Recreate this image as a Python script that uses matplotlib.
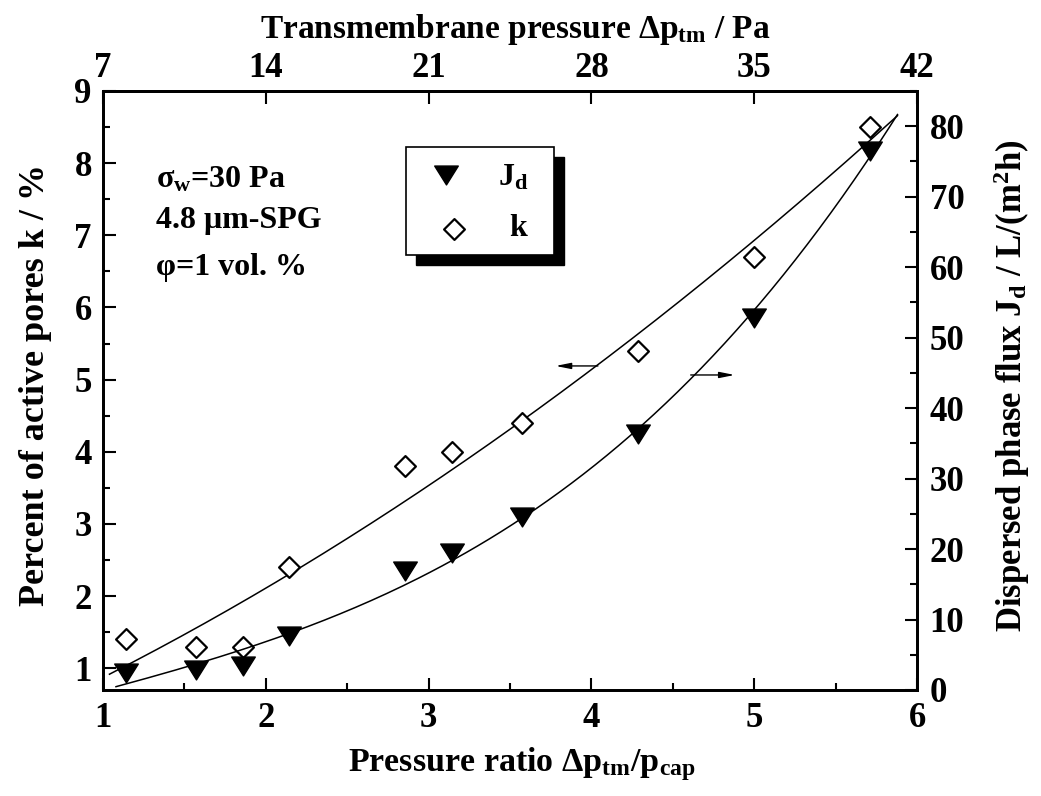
import numpy as np
import matplotlib
matplotlib.use("Agg")
import matplotlib.pyplot as plt
from matplotlib.patches import Rectangle
from matplotlib.path import Path
from matplotlib.ticker import MultipleLocator

plt.rcParams['font.family'] = ['Liberation Serif', 'DejaVu Serif']
plt.rcParams['font.weight'] = 'bold'
plt.rcParams['mathtext.fontset'] = 'custom'
plt.rcParams['mathtext.rm'] = 'Liberation Serif:bold'
plt.rcParams['mathtext.it'] = 'Liberation Serif:bold'
plt.rcParams['mathtext.bf'] = 'Liberation Serif:bold'

# transmembrane pressure (Pa) and capillary pressure of the membrane
dp_tm = np.array([8, 11, 13, 15, 20, 22, 25, 30, 35, 40])
p_cap = 7.0

# percent of active pores k (%) and dispersed phase flux J_d (L/(m2 h))
k_active = np.array([1.4, 1.3, 1.3, 2.4, 3.8, 4.0, 4.4, 5.4, 6.7, 8.5])
j_flux = np.array([2.4, 2.9, 3.4, 7.6, 16.9, 19.4, 24.5, 36.3, 52.8, 76.5])

ratio = dp_tm / p_cap

fig = plt.figure(figsize=(10.41, 7.96), dpi=100)
ax = fig.add_axes([0.0989, 0.1332, 0.782, 0.7525])
ax2 = ax.twinx()

# polynomial trend lines through each series
k_fit = np.polyfit(ratio, k_active, 2)
j_fit = np.polyfit(ratio, j_flux, 3)
xk = np.linspace(1.04, 5.88, 200)
xj = np.linspace(1.08, 5.88, 200)
ax.plot(xk, np.polyval(k_fit, xk), color='black', lw=1.1, zorder=2)
ax2.plot(xj, np.polyval(j_fit, xj), color='black', lw=1.1, zorder=2)

tri = Path([(-1, 0.8), (1, 0.8), (0, -0.8), (-1, 0.8)], closed=True)
dia = Path([(0, 1), (1, 0), (0, -1), (-1, 0), (0, 1)], closed=True)
ax.plot(ratio, k_active, linestyle='none', marker=dia, markersize=15,
        markerfacecolor='white', markeredgecolor='black', markeredgewidth=1.6, zorder=3)
ax2.plot(ratio, j_flux, linestyle='none', marker=tri, markersize=17,
         markerfacecolor='black', markeredgecolor='black', zorder=3)

ax.set_xlim(1, 6)
ax.set_ylim(0.7, 9)
ax2.set_ylim(0, 85)

# arrows pointing to the axis each curve belongs to
arrow = dict(arrowstyle='-|>,head_length=0.9,head_width=0.18', color='black', lw=1.0,
             shrinkA=0, shrinkB=0)
ax.annotate('', xy=(3.78, 5.19), xytext=(4.04, 5.19), arrowprops=arrow)
ax2.annotate('', xy=(4.88, 44.7), xytext=(4.61, 44.7), arrowprops=arrow)

ax.xaxis.set_major_locator(MultipleLocator(1))
ax.xaxis.set_minor_locator(MultipleLocator(0.5))
ax.yaxis.set_major_locator(MultipleLocator(1))
ax.yaxis.set_minor_locator(MultipleLocator(0.5))
ax2.yaxis.set_major_locator(MultipleLocator(10))
ax2.yaxis.set_minor_locator(MultipleLocator(5))

tick_fs = 25
ax.tick_params(which='both', direction='in', width=1.5, top=False, right=False,
               labelsize=tick_fs)
ax.tick_params(which='major', length=9)
ax.tick_params(which='minor', length=5)
ax.tick_params(axis='x', pad=9)
ax.tick_params(axis='y', pad=8)
ax2.tick_params(which='both', direction='in', width=1.5, labelsize=tick_fs, pad=9)
ax2.tick_params(which='major', length=9)
ax2.tick_params(which='minor', length=5)

top = ax.secondary_xaxis('top', functions=(lambda x: x * p_cap, lambda t: t / p_cap))
top.set_xticks([7, 14, 21, 28, 35, 42])
top.tick_params(direction='in', length=9, width=1.5, labelsize=tick_fs, pad=4)

for a in (ax, ax2):
    for s in a.spines.values():
        s.set_linewidth(2)
top.spines['top'].set_linewidth(2)

fig.text(0.034, 0.516, 'Percent of active pores k / %', rotation=90,
         ha='center', va='center', fontsize=26)
fig.text(0.972, 0.515, r'Dispersed phase flux J$_{\rm d}$ / L/(m$^{\rm 2}$h)', rotation=90,
         ha='center', va='center', fontsize=25)
fig.text(0.501, 0.040, r'Pressure ratio $\Delta$p$_{\rm tm}$/p$_{\rm cap}$',
         ha='center', va='center', fontsize=24.5)
fig.text(0.495, 0.963, r'Transmembrane pressure $\Delta$p$_{\rm tm}$ / Pa',
         ha='center', va='center', fontsize=24)

# membrane and emulsion conditions
info_fs = 23
ax.text(0.065, 0.851, r'$\sigma_{\rm w}$=30 Pa', transform=ax.transAxes,
        ha='left', va='center', fontsize=info_fs)
ax.text(0.065, 0.783, '4.8 μm-SPG', transform=ax.transAxes,
        ha='left', va='center', fontsize=info_fs)
ax.text(0.065, 0.705, 'φ=1 vol. %', transform=ax.transAxes,
        ha='left', va='center', fontsize=info_fs)

# legend box with a solid drop shadow
lx, ly, lw, lh = 0.372, 0.726, 0.182, 0.181
ax2.add_patch(Rectangle((lx + 0.012, ly - 0.017), lw, lh, transform=ax.transAxes,
                        facecolor='black', edgecolor='black', zorder=5, clip_on=False))
ax2.add_patch(Rectangle((lx, ly), lw, lh, transform=ax.transAxes,
                        facecolor='white', edgecolor='black', lw=1.2, zorder=6, clip_on=False))
ax2.plot([0.421], [0.860], transform=ax.transAxes, linestyle='none', marker=tri,
         markersize=17, color='black', zorder=7, clip_on=False)
ax2.plot([0.431], [0.770], transform=ax.transAxes, linestyle='none', marker=dia,
         markersize=15, markerfacecolor='white', markeredgecolor='black',
         markeredgewidth=1.6, zorder=7, clip_on=False)
ax2.text(0.485, 0.855, r'J$_{\rm d}$', transform=ax.transAxes, ha='left', va='center',
         fontsize=info_fs, zorder=7)
ax2.text(0.499, 0.770, 'k', transform=ax.transAxes, ha='left', va='center',
         fontsize=info_fs, zorder=7)

fig.savefig('out.png', dpi=100)
